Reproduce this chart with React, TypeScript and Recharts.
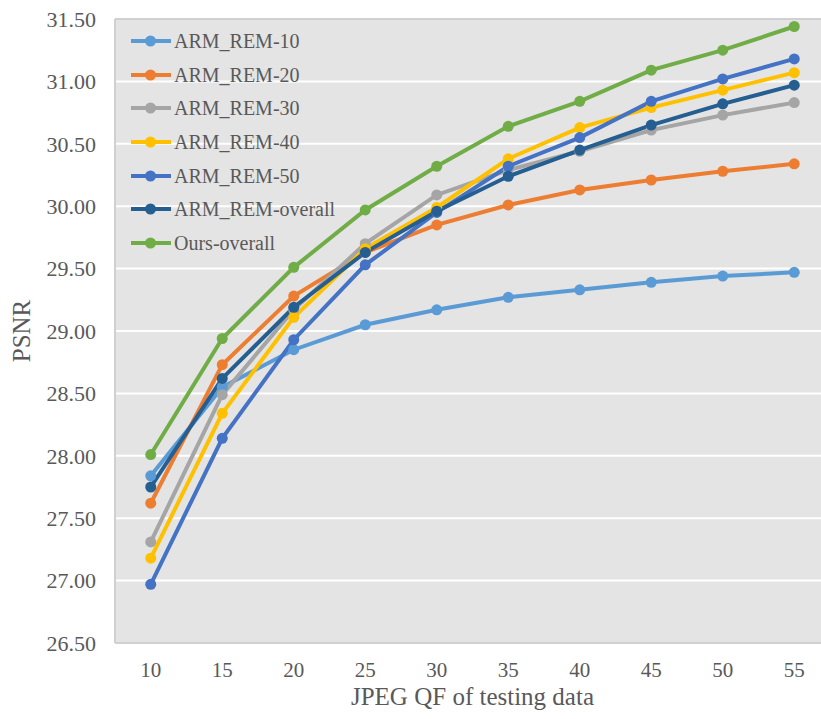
import React from 'react';
import { LineChart, Line, XAxis, YAxis, CartesianGrid, Legend, ReferenceLine } from 'recharts';

const qf = [10, 15, 20, 25, 30, 35, 40, 45, 50, 55];
const arm10 = [27.84, 28.55, 28.85, 29.05, 29.17, 29.27, 29.33, 29.39, 29.44, 29.47];
const arm20 = [27.62, 28.73, 29.28, 29.63, 29.85, 30.01, 30.13, 30.21, 30.28, 30.34];
const arm30 = [27.31, 28.49, 29.17, 29.7, 30.09, 30.29, 30.44, 30.61, 30.73, 30.83];
const arm40 = [27.18, 28.34, 29.11, 29.66, 29.99, 30.38, 30.63, 30.79, 30.93, 31.07];
const arm50 = [26.97, 28.14, 28.93, 29.53, 29.95, 30.32, 30.55, 30.84, 31.02, 31.18];
const armAll = [27.75, 28.62, 29.19, 29.63, 29.96, 30.24, 30.45, 30.65, 30.82, 30.97];
const ours = [28.01, 28.94, 29.51, 29.97, 30.32, 30.64, 30.84, 31.09, 31.25, 31.44];
const yTicks = [26.5, 27, 27.5, 28, 28.5, 29, 29.5, 30, 30.5, 31, 31.5];

const seriesDefs = [
  { key: 'arm10', name: 'ARM_REM-10', values: arm10, color: '#5B9BD5' },
  { key: 'arm20', name: 'ARM_REM-20', values: arm20, color: '#ED7D31' },
  { key: 'arm30', name: 'ARM_REM-30', values: arm30, color: '#A5A5A5' },
  { key: 'arm40', name: 'ARM_REM-40', values: arm40, color: '#FFC000' },
  { key: 'arm50', name: 'ARM_REM-50', values: arm50, color: '#4472C4' },
  { key: 'armAll', name: 'ARM_REM-overall', values: armAll, color: '#255E91' },
  { key: 'ours', name: 'Ours-overall', values: ours, color: '#70AD47' },
];

const data = qf.map((q, i) => {
  const row: Record<string, number> = { qf: q };
  seriesDefs.forEach((s) => {
    row[s.key] = s.values[i];
  });
  return row;
});

const FONT = 'Liberation Serif';
const TEXT = '#595959';

const renderLegend = (props: any) => {
  const payload = props.payload || [];
  return (
    <div style={{ fontFamily: FONT, fontSize: 20, color: TEXT }}>
      {payload.map((p: any) => (
        <div key={p.value} style={{ display: 'flex', alignItems: 'center', height: 33.7 }}>
          <svg width={40} height={12} style={{ display: 'block' }}>
            <line x1={0} y1={6} x2={40} y2={6} stroke={p.color} strokeWidth={4} />
            <circle cx={19.5} cy={6} r={5.5} fill={p.color} />
          </svg>
          <span style={{ marginLeft: 3, lineHeight: '20px', whiteSpace: 'nowrap' }}>{p.value}</span>
        </div>
      ))}
    </div>
  );
};

export default function App() {
  return (
    <div style={{ position: 'fixed', left: 0, top: 0, width: 821, height: 719, overflow: 'hidden', background: '#fff', fontFamily: FONT }}>
      <LineChart width={840} height={719} data={data} margin={{ top: 19, right: 10, bottom: 6, left: 0 }}>
        <CartesianGrid vertical={false} stroke="#FFFFFF" strokeWidth={2} fill="#E4E4E4" fillOpacity={1} />
        <XAxis
          dataKey="qf"
          type="category"
          height={70}
          padding={{ left: 35.75, right: 35.75 }}
          axisLine={{ stroke: '#D0D0D0', strokeWidth: 2 }}
          tickLine={false}
          tickMargin={13}
          tick={{ fill: TEXT, fontFamily: FONT, fontSize: 21 }}
          label={{ value: 'JPEG QF of testing data', position: 'insideBottom', offset: 8, style: { fill: TEXT, fontFamily: FONT, fontSize: 25 } }}
        />
        <YAxis
          type="number"
          domain={[26.5, 31.5]}
          ticks={yTicks}
          width={115}
          interval={0}
          axisLine={{ stroke: '#D0D0D0', strokeWidth: 2 }}
          tickLine={false}
          tickMargin={13}
          tickFormatter={(v: number) => v.toFixed(2)}
          tick={{ fill: TEXT, fontFamily: FONT, fontSize: 22 }}
          label={{ value: 'PSNR', angle: -90, position: 'insideLeft', offset: 21, style: { fill: TEXT, fontFamily: FONT, fontSize: 25, textAnchor: 'middle' } }}
        />
        <ReferenceLine y={31.5} stroke="#D0D0D0" strokeWidth={2} />
        <Legend
          layout="vertical"
          align="center"
          verticalAlign="middle"
          wrapperStyle={{ left: 131, top: 24, width: 'auto', height: 'auto' }}
          content={renderLegend}
        />
        {seriesDefs.map((s) => (
          <Line
            key={s.key}
            type="linear"
            dataKey={s.key}
            name={s.name}
            stroke={s.color}
            strokeWidth={4}
            dot={{ r: 5.5, fill: s.color, stroke: s.color, strokeWidth: 0 }}
            activeDot={false}
            isAnimationActive={false}
          />
        ))}
      </LineChart>
    </div>
  );
}
